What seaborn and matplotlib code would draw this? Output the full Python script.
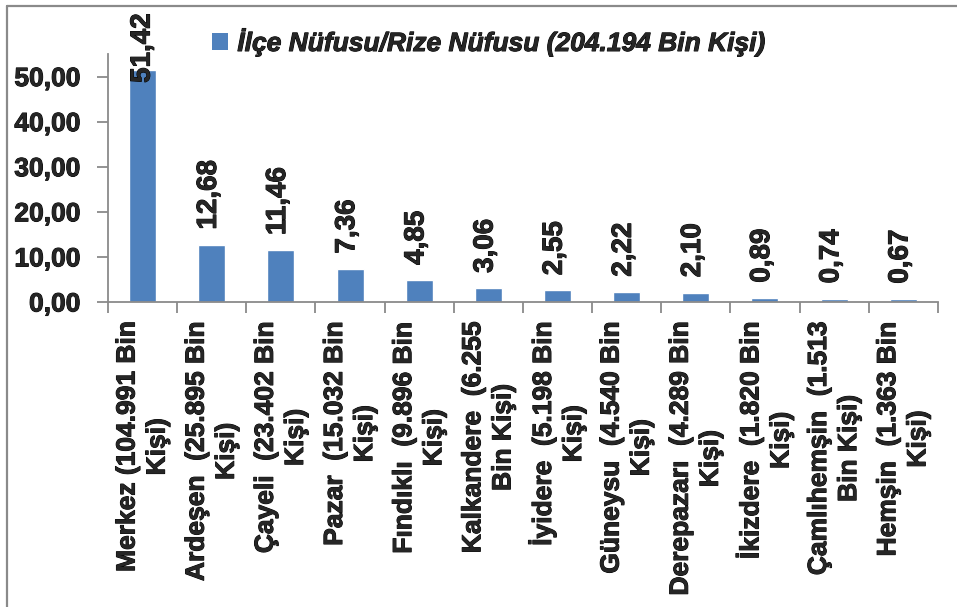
import matplotlib
matplotlib.use("Agg")
import matplotlib.pyplot as plt
import matplotlib.patheffects as pe
from matplotlib.lines import Line2D
from matplotlib.patches import Rectangle
from matplotlib.ticker import FixedLocator, FuncFormatter
import numpy as np
import pandas as pd
import seaborn as sns

# District names (with population) and their share of the province population (%)
districts = [
    "Merkez (104.991 Bin\nKişi)",
    "Ardeşen  (25.895 Bin\nKişi)",
    "Çayeli  (23.402 Bin\nKişi)",
    "Pazar  (15.032 Bin\nKişi)",
    "Fındıklı  (9.896 Bin\nKişi)",
    "Kalkandere  (6.255\nBin Kişi)",
    "İyidere  (5.198 Bin\nKişi)",
    "Güneysu  (4.540 Bin\nKişi)",
    "Derepazarı  (4.289 Bin\nKişi)",
    "İkizdere  (1.820 Bin\nKişi)",
    "Çamlıhemşin  (1.513\nBin Kişi)",
    "Hemşin  (1.363 Bin\nKişi)",
]
shares = [51.42, 12.68, 11.46, 7.36, 4.85, 3.06, 2.55, 2.22, 2.10, 0.89, 0.74, 0.67]
series_name = "İlçe Nüfusu/Rize Nüfusu (204.194 Bin Kişi)"
y_ticks = [0, 10, 20, 30, 40, 50]

df = pd.DataFrame({"district": districts, "share": shares})

sns.set_style("white")
plt.rcParams["font.family"] = ["Liberation Sans", "DejaVu Sans"]
plt.rcParams["font.weight"] = "bold"

BAR = "#4F81BD"
AXIS = "#8A8A8A"
FS = 19
# slightly heavier strokes for the bold text
heavy = [pe.withStroke(linewidth=0.7, foreground="black")]

fig = plt.figure(figsize=(9.57, 6.07), dpi=100)
ax = fig.add_axes([0.1129, 0.5025, 0.8671, 0.4085])

sns.barplot(data=df, x="district", y="share", color=BAR, width=0.39,
            saturation=1, ax=ax, legend=False)

ax.set_xlim(-0.5, len(districts) - 0.5)
ax.set_ylim(0, 55)
ax.set_xlabel("")
ax.set_ylabel("")

# spines: only left and bottom axis lines in gray
for side in ("top", "right"):
    ax.spines[side].set_visible(False)
for side in ("left", "bottom"):
    ax.spines[side].set_color(AXIS)
    ax.spines[side].set_linewidth(1.3)

# y axis
ax.yaxis.set_major_locator(FixedLocator(y_ticks))
ax.yaxis.set_major_formatter(FuncFormatter(lambda v, p: f"{v:.2f}".replace(".", ",")))
ax.tick_params(axis="y", which="major", direction="out", length=8, width=1.3,
               color=AXIS, pad=12, labelsize=FS, left=True)
for t in ax.get_yticklabels():
    t.set_fontweight("bold")
    t.set_path_effects(heavy)

# x axis: labels at category centers, tick marks at category boundaries
ax.set_xticks(range(len(districts)))
ax.set_xticklabels(districts, rotation=90, fontsize=FS, fontweight="bold",
                   ha="center", va="top", multialignment="center",
                   linespacing=1.32)
for t in ax.get_xticklabels():
    t.set_path_effects(heavy)
ax.tick_params(axis="x", which="major", length=0, pad=14)
ax.xaxis.set_minor_locator(FixedLocator(np.arange(-0.5, len(districts), 1.0)))
ax.tick_params(axis="x", which="minor", direction="out", length=8, width=1.3,
               color=AXIS, bottom=True)

# value labels above bars (the tallest one kept inside the chart area)
label_ceiling = 48.6
for i, v in enumerate(shares):
    txt = f"{v:.2f}".replace(".", ",")
    if v + 3.2 > label_ceiling:
        ax.text(i, label_ceiling, txt, rotation=90, ha="center", va="bottom",
                fontsize=FS + 1, fontweight="bold", clip_on=False,
                path_effects=heavy)
    else:
        ax.annotate(txt, (i, v), xytext=(-2, 11), textcoords="offset points",
                    rotation=90, ha="center", va="bottom",
                    fontsize=FS + 1, fontweight="bold", annotation_clip=False,
                    path_effects=heavy)

# legend
handle = Rectangle((0, 0), 1, 1, facecolor=BAR, edgecolor="none")
leg = fig.legend([handle], [series_name], loc="center left",
                 bbox_to_anchor=(0.197, 0.930), frameon=False,
                 handlelength=0.6, handleheight=0.6, handletextpad=0.35,
                 prop={"size": FS, "weight": "bold", "style": "italic"})
for t in leg.get_texts():
    t.set_path_effects(heavy)

# chart frame edges (top and left)
fig.add_artist(Line2D([0.0075, 1.0], [0.9905, 0.9905], transform=fig.transFigure,
                      color=AXIS, linewidth=1.6))
fig.add_artist(Line2D([0.0075, 0.0075], [0.0, 0.9905], transform=fig.transFigure,
                      color=AXIS, linewidth=1.6))

fig.savefig("out.png", dpi=100, facecolor="white")
